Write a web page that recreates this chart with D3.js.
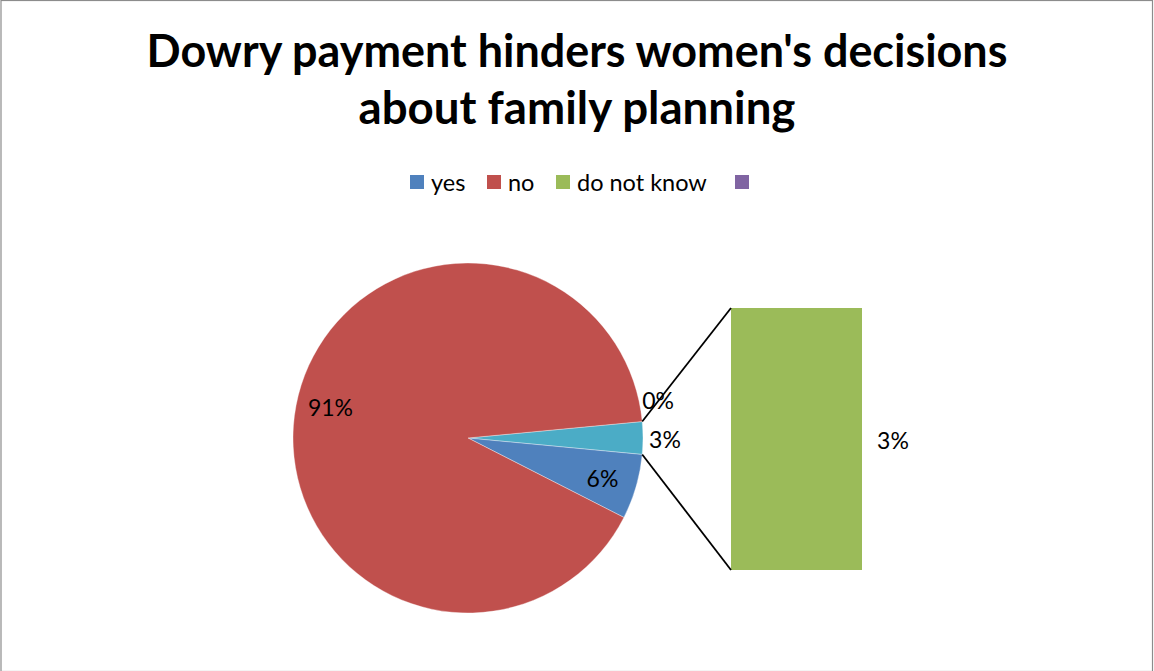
<!DOCTYPE html>
<html>
<head>
<meta charset="utf-8">
<script src="https://cdn.jsdelivr.net/npm/d3@7"></script>
<style>
  html, body { margin: 0; padding: 0; background: #fff; }
  svg { display: block; }
  text { font-family: Lato, "Open Sans", "Liberation Sans", sans-serif; fill: #000; }
</style>
</head>
<body>
<svg id="chart" width="1154" height="671"></svg>
<script>
// Survey answers (percent)
const categories = ["yes", "no", "do not know", ""];
const values = [6, 91, 3, 0];
const colors = ["#4F81BD", "#C0504D", "#9BBB59", "#8064A2"];
const otherColor = "#4BACC6";
// Items split off into the secondary bar
const secondaryIdx = [2, 3];
const titleLines = ["Dowry payment hinders women's decisions", "about family planning"];

const W = 1154, H = 671;
const svg = d3.select("#chart");

// Chart area frame
svg.append("rect").attr("x", 1).attr("y", 0.5).attr("width", W - 2.5).attr("height", H)
  .attr("fill", "#fff").attr("stroke", "#8c8c8c").attr("stroke-width", 1.2);

// Title, fitted to its line width
const titleWidths = [861, 437];
titleLines.forEach((t, i) => {
  const tx = svg.append("text").attr("x", 577).attr("y", 67 + i * 57)
    .attr("text-anchor", "middle").attr("font-weight", "bold")
    .attr("font-size", 38).text(t);
  const w = tx.node().getComputedTextLength();
  tx.attr("font-size", 38 * titleWidths[i] / w);
});

// Legend
const legendX = [410, 487, 556, 735];
categories.forEach((c, i) => {
  svg.append("rect").attr("x", legendX[i]).attr("y", 175).attr("width", 14).attr("height", 14)
    .attr("fill", colors[i]);
  if (c) svg.append("text").attr("x", legendX[i] + 21).attr("y", 191)
    .attr("font-size", 23.5).text(c);
});

// Primary pie: main items plus the combined "other" slice
const otherVal = d3.sum(secondaryIdx, i => values[i]);
const total = d3.sum(values);
const pieItems = [{ v: otherVal, color: otherColor, label: otherVal + "%" }]
  .concat(values.map((v, i) => ({ v, color: colors[i], label: v + "%", i }))
    .filter(d => !secondaryIdx.includes(d.i)));

const cx = 468, cy = 438, R = 175;
const start = Math.PI / 2 - (otherVal / total) * Math.PI;
const pie = d3.pie().sort(null).value(d => d.v).startAngle(start).endAngle(start + 2 * Math.PI);
const arcs = pie(pieItems);
const arc = d3.arc().innerRadius(0).outerRadius(R);

const g = svg.append("g").attr("transform", `translate(${cx},${cy})`);
g.selectAll("path").data(arcs).join("path")
  .attr("d", arc).attr("fill", d => d.data.color)
  .attr("stroke", "#fff").attr("stroke-width", 0.6).attr("stroke-opacity", 0.6);

// Pie labels
const LFS = 23;
const inArc = d3.arc().innerRadius(0.8 * R).outerRadius(0.8 * R);
const outArc = d3.arc().innerRadius(R + 22).outerRadius(R + 22);
arcs.forEach((a, k) => {
  const p = k === 0 ? outArc.centroid(a) : inArc.centroid(a);
  const dy = k === 2 ? -4 : 2;
  g.append("text").attr("x", p[0]).attr("y", p[1] + 8 + dy)
    .attr("text-anchor", "middle").attr("font-size", LFS).text(a.data.label);
});

// Secondary bar (stacked)
const barX = 731, barW = 131;
const y = d3.scaleLinear().domain([0, otherVal]).range([570, 308]);
let acc = 0;
secondaryIdx.forEach(i => {
  const y0 = y(acc), y1 = y(acc + values[i]);
  svg.append("rect").attr("x", barX).attr("y", y1).attr("width", barW)
    .attr("height", y0 - y1).attr("fill", colors[i]);
  acc += values[i];
});
// Bar labels
let acc2 = 0;
secondaryIdx.forEach(i => {
  if (values[i] > 0) {
    const ym = y(acc2 + values[i] / 2);
    svg.append("text").attr("x", barX + barW + 31).attr("y", ym + 10)
      .attr("text-anchor", "middle").attr("font-size", LFS).text(values[i] + "%");
  } else {
    // zero item: label placed at the top edge of the "other" slice
    const a0 = arcs[0].startAngle;
    const px = cx + (R + 16) * Math.sin(a0), py = cy - (R + 16) * Math.cos(a0);
    svg.append("text").attr("x", px).attr("y", py - 11)
      .attr("text-anchor", "middle").attr("font-size", LFS).text(values[i] + "%");
  }
  acc2 += values[i];
});

// Connector lines from the "other" slice to the bar
const a = arcs[0];
const pTop = [cx + R * Math.sin(a.startAngle), cy - R * Math.cos(a.startAngle)];
const pBot = [cx + R * Math.sin(a.endAngle), cy - R * Math.cos(a.endAngle)];
svg.append("line").attr("x1", pTop[0]).attr("y1", pTop[1]).attr("x2", barX).attr("y2", y(otherVal))
  .attr("stroke", "#000").attr("stroke-width", 1.8);
svg.append("line").attr("x1", pBot[0]).attr("y1", pBot[1]).attr("x2", barX).attr("y2", y(0))
  .attr("stroke", "#000").attr("stroke-width", 1.8);
</script>
</body>
</html>
